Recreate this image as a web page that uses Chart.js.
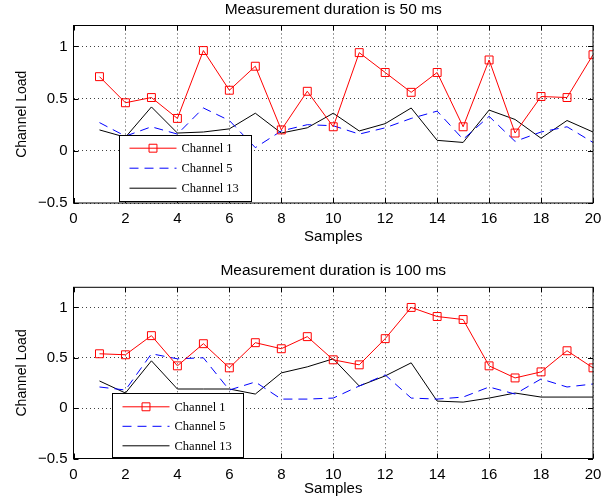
<!DOCTYPE html>
<html>
<head>
<meta charset="utf-8">
<script src="https://cdn.jsdelivr.net/npm/chart.js@4.4.1/dist/chart.umd.min.js"></script>
<style>
    html, body { margin: 0; padding: 0; background: #fff; }
    #wrap { position: relative; width: 616px; height: 504px; }
    canvas { position: absolute; left: 0; }
</style>
</head>
<body>
<div id="wrap">
    <canvas id="c50" width="616" height="252" style="top:0"></canvas>
    <canvas id="c100" width="616" height="252" style="top:252px"></canvas>
</div>
<script>
const samples = [1, 2, 3, 4, 5, 6, 7, 8, 9, 10, 11, 12, 13, 14, 15, 16, 17, 18, 19, 20];

// 50 ms
const ch1_50  = [0.71, 0.46, 0.51, 0.31, 0.96, 0.58, 0.81, 0.20, 0.57, 0.23, 0.94, 0.75, 0.56, 0.75, 0.23, 0.87, 0.17, 0.52, 0.51, 0.92];
const ch5_50  = [0.27, 0.14, 0.23, 0.16, 0.41, 0.29, 0.03, 0.19, 0.25, 0.24, 0.16, 0.22, 0.31, 0.38, 0.11, 0.33, 0.09, 0.18, 0.23, 0.08];
const ch13_50 = [0.20, 0.13, 0.42, 0.17, 0.18, 0.21, 0.36, 0.17, 0.22, 0.36, 0.19, 0.26, 0.41, 0.10, 0.08, 0.39, 0.30, 0.12, 0.29, 0.18];

// 100 ms
const ch1_100  = [0.54, 0.53, 0.72, 0.42, 0.64, 0.40, 0.65, 0.59, 0.71, 0.48, 0.43, 0.69, 1.00, 0.91, 0.88, 0.42, 0.30, 0.36, 0.57, 0.40];
const ch5_100  = [0.21, 0.18, 0.54, 0.49, 0.50, 0.18, 0.26, 0.09, 0.09, 0.10, 0.22, 0.33, 0.10, 0.09, 0.11, 0.21, 0.14, 0.29, 0.21, 0.24];
const ch13_100 = [0.27, 0.15, 0.47, 0.19, 0.19, 0.19, 0.14, 0.35, 0.41, 0.49, 0.22, 0.32, 0.45, 0.07, 0.06, 0.10, 0.15, 0.11, 0.11, 0.11];

const channelNames = ['Channel 1', 'Channel 5', 'Channel 13'];
const xTicks = [0, 2, 4, 6, 8, 10, 12, 14, 16, 18, 20];
const yTicks = [-0.5, 0, 0.5, 1];
const yMin = -0.5;
const yMax = 1.2;

Chart.defaults.font.family = '"Liberation Sans", Arial, sans-serif';
Chart.defaults.color = '#000';

const toPoints = values => values.map((v, i) => ({ x: samples[i], y: v }));

// box, inward ticks and the in-axes legend, MATLAB style
const matlabAxes = {
    id: 'matlabAxes',
    afterDatasetsDraw(chart, args, opts) {
        const { ctx, chartArea: a, scales: { x, y } } = chart;
        ctx.save();
        ctx.strokeStyle = '#000';
        ctx.lineWidth = 1;
        ctx.setLineDash([]);
        ctx.beginPath();
        x.ticks.forEach(t => {
            const px = Math.round(x.getPixelForValue(t.value)) + 0.5;
            ctx.moveTo(px, a.bottom); ctx.lineTo(px, a.bottom - 5);
            ctx.moveTo(px, a.top); ctx.lineTo(px, a.top + 5);
        });
        y.ticks.forEach(t => {
            const py = Math.round(y.getPixelForValue(t.value)) + 0.5;
            ctx.moveTo(a.left, py); ctx.lineTo(a.left + 5, py);
            ctx.moveTo(a.right, py); ctx.lineTo(a.right - 5, py);
        });
        ctx.stroke();
        ctx.strokeRect(a.left, a.top, a.width, a.height);

        const lg = opts.legend;
        const bx = Math.round(a.left + lg.dx) + 0.5;
        const by = Math.round(a.bottom - lg.dy - lg.h) + 0.5;
        ctx.fillStyle = '#fff';
        ctx.fillRect(bx, by, lg.w, lg.h);
        ctx.strokeRect(bx, by, lg.w, lg.h);

        ctx.font = '12.5px "Liberation Serif", "Times New Roman", serif';
        ctx.textBaseline = 'middle';
        chart.data.datasets.forEach((ds, i) => {
            const ry = by + lg.row0 + i * lg.rowGap;
            ctx.strokeStyle = ds.borderColor;
            ctx.lineWidth = ds.borderWidth;
            ctx.setLineDash(ds.borderDash || []);
            ctx.beginPath();
            ctx.moveTo(bx + 10, ry);
            ctx.lineTo(bx + 57, ry);
            ctx.stroke();
            ctx.setLineDash([]);
            if (ds.pointRadius > 0) {
                ctx.fillStyle = 'rgba(0,0,0,0)';
                Chart.helpers.drawPoint(ctx, {
                    pointStyle: ds.pointStyle,
                    radius: ds.pointRadius,
                    borderWidth: 1,
                    rotation: 0
                }, bx + 33.5, ry);
            }
            ctx.fillStyle = '#000';
            ctx.fillText(ds.label, bx + 62, ry + 0.5);
        });
        ctx.restore();
    }
};

const makeChart = (id, title, ch1, ch5, ch13, lay) => {
    return new Chart(document.getElementById(id), {
        type: 'line',
        data: {
            datasets: [
                {
                    label: channelNames[0],
                    data: toPoints(ch1),
                    borderColor: '#ff0000',
                    borderWidth: 1,
                    pointStyle: 'rect',
                    pointRadius: 5.6,
                    pointBorderWidth: 1,
                    pointBorderColor: '#ff0000',
                    pointBackgroundColor: 'rgba(0,0,0,0)'
                },
                {
                    label: channelNames[1],
                    data: toPoints(ch5),
                    borderColor: '#0000ff',
                    borderWidth: 1,
                    borderDash: [9, 6],
                    pointRadius: 0
                },
                {
                    label: channelNames[2],
                    data: toPoints(ch13),
                    borderColor: '#000000',
                    borderWidth: 1,
                    pointRadius: 0
                }
            ]
        },
        options: {
            responsive: false,
            animation: false,
            events: [],
            layout: { padding: { left: 0, right: 23, top: 0, bottom: lay.padB } },
            plugins: {
                legend: { display: false },
                tooltip: { enabled: false },
                title: { display: false },
                matlabAxes: { legend: lay.legend }
            },
            scales: {
                // top axis only carries the title, so it centres over the plot box
                top: {
                    type: 'linear',
                    axis: 'x',
                    position: 'top',
                    min: 0,
                    max: 20,
                    afterFit: s => { s.height = lay.topH; },
                    grid: { display: false },
                    border: { display: false },
                    ticks: { display: false },
                    title: {
                        display: true,
                        text: title,
                        color: '#000',
                        font: { size: 15.5 },
                        padding: { top: lay.tTop, bottom: 0 }
                    }
                },
                x: {
                    type: 'linear',
                    position: 'bottom',
                    min: 0,
                    max: 20,
                    afterBuildTicks: s => { s.ticks = xTicks.map(v => ({ value: v })); },
                    afterFit: s => { s.height = lay.xH; },
                    grid: { color: 'rgba(0,0,0,0.75)', lineWidth: 1, drawTicks: false },
                    border: { display: false, dash: [1, 3] },
                    ticks: { padding: 7, font: { size: 15 }, color: '#000', maxRotation: 0, autoSkip: false },
                    title: { display: true, text: 'Samples', font: { size: 15 }, color: '#000', padding: { top: 0, bottom: 0 } }
                },
                y: {
                    type: 'linear',
                    min: yMin,
                    max: yMax,
                    afterBuildTicks: s => { s.ticks = yTicks.map(v => ({ value: v })); },
                    afterFit: s => { s.width = 73.5; },
                    grid: { color: 'rgba(0,0,0,0.75)', lineWidth: 1, drawTicks: false },
                    border: { display: false, dash: [1, 3] },
                    ticks: {
                        padding: 6,
                        font: { size: 15 },
                        color: '#000',
                        callback: v => v < 0 ? '\u2212' + Math.abs(v) : String(v)
                    },
                    title: { display: true, text: 'Channel Load', font: { size: 14 }, color: '#000', padding: { top: 14, bottom: 0 } }
                }
            }
        },
        plugins: [matlabAxes]
    });
};

makeChart('c50', 'Measurement duration is 50 ms', ch1_50, ch5_50, ch13_50, {
    topH: 25.5, tTop: 0.7, xH: 42.5, padB: 6.5,
    legend: { dx: 45.5, dy: 2.3, w: 132, h: 66, row0: 12.7, rowGap: 20 }
});

makeChart('c100', 'Measurement duration is 100 ms', ch1_100, ch5_100, ch13_100, {
    topH: 35.3, tTop: 9.2, xH: 39.5, padB: 6,
    legend: { dx: 38.5, dy: 1.4, w: 131, h: 64, row0: 13.3, rowGap: 19.5 }
});
</script>
</body>
</html>
